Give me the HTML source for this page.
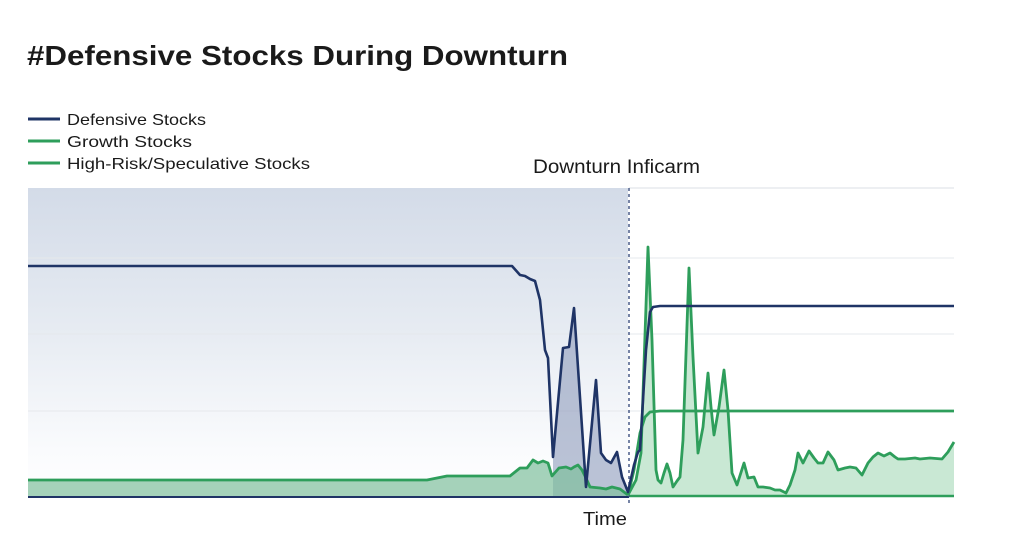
<!DOCTYPE html>
<html>
<head>
<meta charset="utf-8">
<style>
  html,body{margin:0;padding:0;background:#fff;}
  body{width:1024px;height:559px;overflow:hidden;}
  svg{display:block;}
  text{font-family:"Liberation Sans",Arial,sans-serif;fill:#1a1a1a;}
</style>
</head>
<body>
<svg width="1024" height="559" viewBox="0 0 1024 559" xmlns="http://www.w3.org/2000/svg">
  <defs>
    <linearGradient id="shade" x1="0" y1="0" x2="0" y2="1">
      <stop offset="0" stop-color="#d3dbe8"/>
      <stop offset="0.45" stop-color="#e6ebf2"/>
      <stop offset="0.85" stop-color="#fafbfd"/>
      <stop offset="1" stop-color="#ffffff"/>
    </linearGradient>
  </defs>

  <!-- Title -->
  <text x="27" y="65" font-size="28" font-weight="bold" textLength="541" lengthAdjust="spacingAndGlyphs">#Defensive Stocks During Downturn</text>

  <!-- Legend -->
  <line x1="28" y1="119" x2="60" y2="119" stroke="#1f3466" stroke-width="3"/>
  <text x="67" y="125" font-size="16" textLength="139" lengthAdjust="spacingAndGlyphs">Defensive Stocks</text>
  <line x1="28" y1="141" x2="60" y2="141" stroke="#2e9e5b" stroke-width="3"/>
  <text x="67" y="147" font-size="16" textLength="125" lengthAdjust="spacingAndGlyphs">Growth Stocks</text>
  <line x1="28" y1="163" x2="60" y2="163" stroke="#2e9e5b" stroke-width="3"/>
  <text x="67" y="169" font-size="16" textLength="243" lengthAdjust="spacingAndGlyphs">High-Risk/Speculative Stocks</text>

  <!-- Annotation -->
  <text x="533" y="173" font-size="19" textLength="167" lengthAdjust="spacingAndGlyphs">Downturn Inficarm</text>

  <!-- Shaded downturn band -->
  <rect x="28" y="188" width="600" height="309" fill="url(#shade)"/>

  <!-- top border line (right) -->
  <line x1="629" y1="188" x2="954" y2="188" stroke="#e2e5ea" stroke-width="1.2"/>

  <!-- Grid lines -->
  <line x1="28" y1="258" x2="954" y2="258" stroke="#e6e8ec" stroke-width="1"/>
  <line x1="28" y1="334" x2="954" y2="334" stroke="#e6e8ec" stroke-width="1"/>
  <line x1="28" y1="411" x2="954" y2="411" stroke="#e6e8ec" stroke-width="1"/>

  <!-- Navy fill in dip region -->
  <path d="M553,457 L563,348 L569,347 L574,308 L586,487 L596,380 L601,453 L606,460 L611,463 L617,452 L622,477 L628,493 L628,497 L553,497 Z" fill="#8e9bbb" fill-opacity="0.6"/>

  <!-- Left green fill -->
  <path d="M28,480 L427,480 L447,476 L510,476 L520,468 L527,468 L533,460 L538,463 L543,461 L548,463 L552,476 L559,468 L566,467 L571,469 L574,467 L578,465 L582,470 L586,478 L590,487 L600,488 L606,489 L612,487 L620,489 L628,495 L628,497 L28,497 Z" fill="#7fbf9c" fill-opacity="0.7"/>

  <!-- Right green fill (speculative) -->
  <path d="M628,495 L636,480 L641,453 L648,247 L652,340 L656,470 L658,480 L661,483 L664,473 L667,464 L670,473 L673,487 L677,481 L680,477 L683,440 L689,268 L693,357 L698,453 L703,427 L708,373 L711,407 L714,435 L719,407 L724,370 L728,410 L732,473 L737,485 L744,463 L748,478 L754,477 L758,487 L763,487 L770,488 L775,490 L780,490 L786,493 L790,485 L795,470 L798,453 L803,463 L809,451 L814,458 L818,463 L823,463 L828,452 L834,460 L838,470 L845,468 L850,467 L856,468 L862,475 L868,463 L873,457 L878,453 L884,456 L890,453 L895,457 L898,459 L905,459 L915,458 L920,459 L930,458 L942,459 L948,452 L954,442 L954,496 L628,496 Z" fill="#c3e6cf" fill-opacity="0.9"/>

  <!-- Bottom axis lines -->
  <line x1="28" y1="497" x2="629" y2="497" stroke="#1f3466" stroke-width="2"/>
  <line x1="629" y1="496" x2="954" y2="496" stroke="#2e9e5b" stroke-width="2.5"/>

  <!-- Dashed vertical -->
  <line x1="629" y1="188" x2="629" y2="505" stroke="#3d5080" stroke-width="1.4" stroke-dasharray="3,3"/>

  <!-- Left speculative/growth green line -->
  <polyline fill="none" stroke="#2e9e5b" stroke-width="2.8" stroke-linejoin="round" points="28,480 427,480 447,476 510,476 520,468 527,468 533,460 538,463 543,461 548,463 552,476 559,468 566,467 571,469 574,467 578,465 582,470 586,478 590,487 600,488 606,489 612,487 620,489 628,495"/>

  <!-- Growth right (flat at 411) -->
  <polyline fill="none" stroke="#2e9e5b" stroke-width="2.8" stroke-linejoin="round" points="628,495 634,470 640,433 645,417 650,412 660,411 954,411"/>

  <!-- Speculative right line -->
  <polyline fill="none" stroke="#2e9e5b" stroke-width="2.8" stroke-linejoin="round" points="628,495 636,480 641,453 648,247 652,340 656,470 658,480 661,483 664,473 667,464 670,473 673,487 677,481 680,477 683,440 689,268 693,357 698,453 703,427 708,373 711,407 714,435 719,407 724,370 728,410 732,473 737,485 744,463 748,478 754,477 758,487 763,487 770,488 775,490 780,490 786,493 790,485 795,470 798,453 803,463 809,451 814,458 818,463 823,463 828,452 834,460 838,470 845,468 850,467 856,468 862,475 868,463 873,457 878,453 884,456 890,453 895,457 898,459 905,459 915,458 920,459 930,458 942,459 948,452 954,442"/>

  <!-- Defensive navy line -->
  <polyline fill="none" stroke="#1f3466" stroke-width="2.6" stroke-linejoin="round" points="28,266 512,266 520,275 525,276 530,279 535,281 540,300 545,350 548,358 553,457 563,348 569,347 574,308 586,487 596,380 601,453 606,460 611,463 617,452 622,477 628,492 634,465 638,452 640,450 646,350 650,312 653,307 660,306 954,306"/>

  <!-- X axis label -->
  <text x="583" y="525" font-size="18" textLength="44" lengthAdjust="spacingAndGlyphs">Time</text>
</svg>
</body>
</html>
